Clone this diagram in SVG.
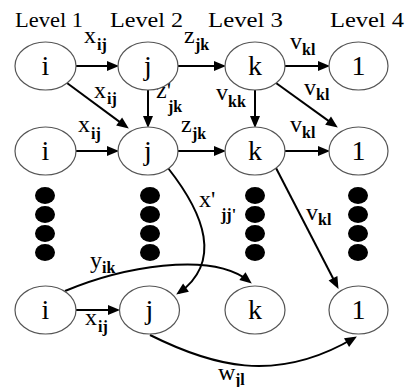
<svg xmlns="http://www.w3.org/2000/svg" width="406" height="387" viewBox="0 0 406 387">
<rect width="406" height="387" fill="#fff"/>
<g id="levels">
<text font-family="Liberation Serif" font-size="20" x="15" y="27" textLength="68" lengthAdjust="spacingAndGlyphs">Level 1</text>
<text font-family="Liberation Serif" font-size="20" x="110" y="27" textLength="73" lengthAdjust="spacingAndGlyphs">Level 2</text>
<text font-family="Liberation Serif" font-size="20" x="208" y="27" textLength="75" lengthAdjust="spacingAndGlyphs">Level 3</text>
<text font-family="Liberation Serif" font-size="20" x="330" y="27" textLength="74" lengthAdjust="spacingAndGlyphs">Level 4</text>
</g>
<g id="dots" fill="#000">
<ellipse cx="45" cy="195.5" rx="10" ry="8.5"/><ellipse cx="45" cy="214.5" rx="10" ry="8.5"/><ellipse cx="45" cy="233.5" rx="10" ry="8.5"/><ellipse cx="45" cy="252.5" rx="10" ry="8.5"/>
<ellipse cx="150" cy="195.5" rx="10" ry="8.5"/><ellipse cx="150" cy="214.5" rx="10" ry="8.5"/><ellipse cx="150" cy="233.5" rx="10" ry="8.5"/><ellipse cx="150" cy="252.5" rx="10" ry="8.5"/>
<ellipse cx="255" cy="195.5" rx="10" ry="8.5"/><ellipse cx="255" cy="214.5" rx="10" ry="8.5"/><ellipse cx="255" cy="233.5" rx="10" ry="8.5"/><ellipse cx="255" cy="252.5" rx="10" ry="8.5"/>
<ellipse cx="358" cy="195.5" rx="10" ry="8.5"/><ellipse cx="358" cy="214.5" rx="10" ry="8.5"/><ellipse cx="358" cy="233.5" rx="10" ry="8.5"/><ellipse cx="358" cy="252.5" rx="10" ry="8.5"/>
</g>
<g id="connectors">
<g fill="none" stroke="#000" stroke-width="2">
<path d="M76,66 L111,66"/>
<path d="M178,66 L218,66"/>
<path d="M285,66 L322,66"/>
<path d="M67,83 L122.3,123.9"/>
<path d="M148,90 L148,120"/>
<path d="M255,90 L255,120"/>
<path d="M276,83 L331.3,122.9"/>
<path d="M76,151 L111,151"/>
<path d="M178,151 L218,151"/>
<path d="M285,151 L322,151"/>
<path d="M276,168 L334.8,281.8"/>
<path d="M168,168 C205,215 222,262 179,293"/>
<path d="M65,291 C120,268 210,250 249,281"/>
<path d="M76,310 L112,310"/>
<path d="M150,335 C210,365 275,385 354,338"/>
</g>
<g fill="#000">
<polygon points="107,61 119,66 107,71"/>
<polygon points="214,61 226,66 214,71"/>
<polygon points="318,61 330,66 318,71"/>
<polygon points="116.1,125.5 128.8,128.6 122.1,117.5"/>
<polygon points="143,116 148,128 153,116"/>
<polygon points="250,116 255,128 260,116"/>
<polygon points="325.2,124.7 337.8,127.6 331,116.5"/>
<polygon points="107,146 119,151 107,156"/>
<polygon points="214,146 226,151 214,156"/>
<polygon points="318,146 330,151 318,156"/>
<polygon points="328.6,280.5 338.5,288.9 337.4,275.9"/>
<polygon points="183.1,283.5 176.2,294.6 188.9,291.7"/>
<polygon points="239.3,280 251.8,283.6 245.5,272.2"/>
<polygon points="108,305 120,310 108,315"/>
<polygon points="349.1,346.9 356.9,336.5 344,338.3"/>
</g>
</g>
<g id="labels">
<text font-family="Liberation Serif" font-size="24" x="84" y="43">x</text>
<text font-family="Liberation Serif" font-size="24" x="94" y="98">x</text>
<text font-family="Liberation Serif" font-size="24" x="156" y="98">z'</text>
<text font-family="Liberation Serif" font-size="24" x="184" y="43">z</text>
<text font-family="Liberation Serif" font-size="24" x="290" y="49">v</text>
<text font-family="Liberation Serif" font-size="24" x="216" y="100">v</text>
<text font-family="Liberation Serif" font-size="24" x="304" y="95">v</text>
<text font-family="Liberation Serif" font-size="24" x="78" y="132">x</text>
<text font-family="Liberation Serif" font-size="24" x="181" y="132">z</text>
<text font-family="Liberation Serif" font-size="24" x="290" y="132">v</text>
<text font-family="Liberation Serif" font-size="24" x="199" y="207">x'</text>
<text font-family="Liberation Serif" font-size="24" x="306" y="220">v</text>
<text font-family="Liberation Serif" font-size="24" x="90" y="268">y</text>
<text font-family="Liberation Serif" font-size="24" x="85" y="325">x</text>
<text font-family="Liberation Serif" font-size="24" x="218" y="380">w</text>
<text font-family="Liberation Serif" font-size="16" font-weight="bold" x="97" y="50">ij</text>
<text font-family="Liberation Serif" font-size="16" font-weight="bold" x="107" y="104">ij</text>
<text font-family="Liberation Serif" font-size="16" font-weight="bold" x="168" y="112">jk</text>
<text font-family="Liberation Serif" font-size="16" font-weight="bold" x="195" y="50">jk</text>
<text font-family="Liberation Serif" font-size="16" font-weight="bold" x="302" y="55">kl</text>
<text font-family="Liberation Serif" font-size="16" font-weight="bold" x="228" y="107">kk</text>
<text font-family="Liberation Serif" font-size="16" font-weight="bold" x="316" y="100">kl</text>
<text font-family="Liberation Serif" font-size="16" font-weight="bold" x="91" y="139">ij</text>
<text font-family="Liberation Serif" font-size="16" font-weight="bold" x="192" y="139">jk</text>
<text font-family="Liberation Serif" font-size="16" font-weight="bold" x="302" y="138">kl</text>
<text font-family="Liberation Serif" font-size="16" font-weight="bold" x="221" y="220">jj'</text>
<text font-family="Liberation Serif" font-size="16" font-weight="bold" x="318" y="225">kl</text>
<text font-family="Liberation Serif" font-size="16" font-weight="bold" x="102" y="273">ik</text>
<text font-family="Liberation Serif" font-size="16" font-weight="bold" x="98" y="332">ij</text>
<text font-family="Liberation Serif" font-size="16" font-weight="bold" x="235" y="385">jl</text>
</g>
<g id="n_i1"><ellipse fill="#fff" stroke="#555" stroke-width="1.2" cx="45.5" cy="66" rx="30.5" ry="24"/><text font-family="Liberation Serif" font-size="28" text-anchor="middle" x="45.5" y="75">i</text></g>
<g id="n_j1"><ellipse fill="#fff" stroke="#555" stroke-width="1.2" cx="148" cy="66" rx="30" ry="24"/><text font-family="Liberation Serif" font-size="28" text-anchor="middle" x="148" y="75">j</text></g>
<g id="n_k1"><ellipse fill="#fff" stroke="#555" stroke-width="1.2" cx="255" cy="66" rx="30" ry="24"/><text font-family="Liberation Serif" font-size="28" text-anchor="middle" x="255" y="75">k</text></g>
<g id="n_l1"><ellipse fill="#fff" stroke="#555" stroke-width="1.2" cx="358.5" cy="66" rx="29.5" ry="24"/><text font-family="Liberation Serif" font-size="28" text-anchor="middle" x="358.5" y="75">1</text></g>
<g id="n_i2"><ellipse fill="#fff" stroke="#555" stroke-width="1.2" cx="45.5" cy="151" rx="30.5" ry="24"/><text font-family="Liberation Serif" font-size="28" text-anchor="middle" x="45.5" y="160">i</text></g>
<g id="n_j2"><ellipse fill="#fff" stroke="#555" stroke-width="1.2" cx="148" cy="151" rx="30" ry="24"/><text font-family="Liberation Serif" font-size="28" text-anchor="middle" x="148" y="160">j</text></g>
<g id="n_k2"><ellipse fill="#fff" stroke="#555" stroke-width="1.2" cx="255" cy="151" rx="30" ry="24"/><text font-family="Liberation Serif" font-size="28" text-anchor="middle" x="255" y="160">k</text></g>
<g id="n_l2"><ellipse fill="#fff" stroke="#555" stroke-width="1.2" cx="358.5" cy="151" rx="29.5" ry="24"/><text font-family="Liberation Serif" font-size="28" text-anchor="middle" x="358.5" y="160">1</text></g>
<g id="n_i3"><ellipse fill="#fff" stroke="#555" stroke-width="1.2" cx="45.5" cy="310" rx="30.5" ry="24"/><text font-family="Liberation Serif" font-size="28" text-anchor="middle" x="45.5" y="319">i</text></g>
<g id="n_j3"><ellipse fill="#fff" stroke="#555" stroke-width="1.2" cx="149.5" cy="310" rx="30" ry="24"/><text font-family="Liberation Serif" font-size="28" text-anchor="middle" x="149.5" y="319">j</text></g>
<g id="n_k3"><ellipse fill="#fff" stroke="#555" stroke-width="1.2" cx="255" cy="310" rx="30" ry="24"/><text font-family="Liberation Serif" font-size="28" text-anchor="middle" x="255" y="319">k</text></g>
<g id="n_l3"><ellipse fill="#fff" stroke="#555" stroke-width="1.2" cx="358.5" cy="310" rx="29.5" ry="24"/><text font-family="Liberation Serif" font-size="28" text-anchor="middle" x="358.5" y="319">1</text></g>
</svg>
